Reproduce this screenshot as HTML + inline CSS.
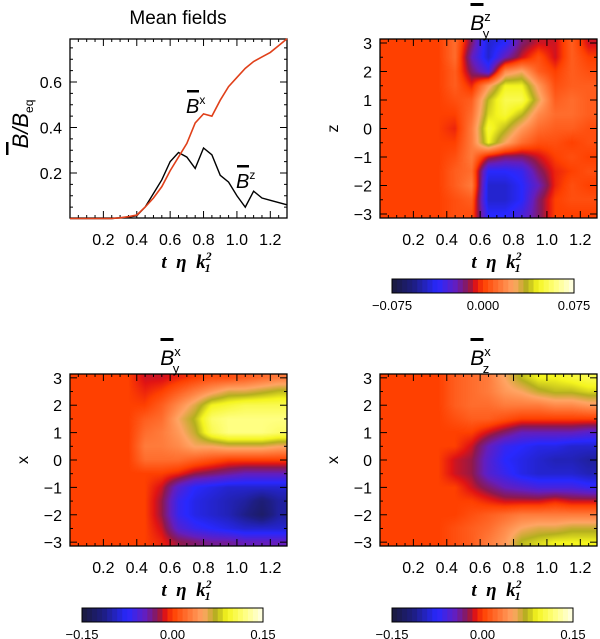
<!DOCTYPE html>
<html><head><meta charset="utf-8"><style>
html,body{margin:0;padding:0;background:#fff;}
#wrap{position:relative;width:600px;height:639px;}
canvas{position:absolute;z-index:0;}
svg{position:absolute;left:0;top:0;z-index:1;display:block;font-family:"Liberation Sans",sans-serif;}
.tl{font-size:16px;fill:#000;}
.ttl{font-family:"Liberation Serif",serif;font-style:italic;font-weight:bold;font-size:19px;}
</style></head><body>
<div id="wrap">
<svg id="fig" width="600" height="639" viewBox="0 0 600 639" xmlns="http://www.w3.org/2000/svg"></svg>
</div>
<script>
// ---------- data ----------
const lineT = [0,0.05,0.1,0.15,0.2,0.25,0.3,0.35,0.4,0.45,0.5,0.55,0.6,0.65,0.7,0.75,0.8,0.85,0.9,0.95,1.0,1.05,1.1,1.15,1.2,1.25,1.3];
const bxValues = [0,0,0,0,0,0,0.003,0.008,0.015,0.05,0.09,0.14,0.21,0.27,0.33,0.42,0.46,0.45,0.52,0.58,0.62,0.66,0.69,0.71,0.73,0.76,0.79];
const bzValues = [0,0,0,0,0,0,0.003,0.006,0.012,0.05,0.11,0.17,0.25,0.29,0.27,0.22,0.31,0.28,0.19,0.16,0.1,0.05,0.12,0.09,0.08,0.07,0.06];
const lineYTicks = [0.2,0.4,0.6];
const xTicks = [0.2,0.4,0.6,0.8,1.0,1.2];
const zTicks = [3,2,1,0,-1,-2,-3];
const mapT = [0.05,0.15,0.25,0.35,0.45,0.55,0.65,0.75,0.85,0.95,1.05,1.15,1.25];
const mapZ = [3,2.5,2,1.5,1,0.5,0,-0.5,-1,-1.5,-2,-2.5,-3];
// values as fraction of colour-bar max
const byzValues = [
[0,0,0,0,0.15,-0.2,-0.6,-0.5,-0.2,-0.1,-0.1,0.1,-0.1],
[0,0,0,0,0.15,-0.3,-0.6,-0.3,-0.1,0.05,-0.1,0.1,0],
[0,0,0,0,0.1,-0.2,-0.4,0.25,0.35,0.1,0,0.1,0.05],
[0,0,0,0,0.1,-0.05,0.3,0.6,0.6,0.3,0.05,0.1,0.1],
[0,0,0,0,0.05,0.1,0.5,0.7,0.7,0.4,0.1,0.15,0.1],
[0,0,0,0,0,0.15,0.55,0.65,0.5,0.25,0.15,0.15,0.1],
[0,0,0,0,-0.05,0.2,0.65,0.5,0.3,0.15,0.1,0.1,0.05],
[0,0,0,0,0,0.2,0.6,0.35,0.15,0.05,0.05,0,0.05],
[0,0,0,0,0.05,0.2,-0.1,-0.2,-0.2,-0.1,0,0.05,0],
[0,0,0,0,0.1,0.15,-0.5,-0.5,-0.45,-0.2,-0.05,0,0.05],
[0,0,0,0,0.1,0.2,-0.6,-0.6,-0.5,-0.3,-0.05,0.05,0],
[0,0,0,0,0.05,0.1,-0.6,-0.6,-0.5,-0.2,0,0.05,0.05],
[0,0,0,0,0.05,0.05,-0.5,-0.5,-0.4,-0.2,0,0,0]];
const byxValues = [
[0,0,0,0,-0.1,-0.1,-0.05,0,0.05,0.05,0.1,0.15,0.2],
[0,0,0,0,-0.05,0,0.1,0.2,0.3,0.4,0.4,0.45,0.5],
[0,0,0,0,0,0.1,0.25,0.4,0.6,0.65,0.7,0.7,0.7],
[0,0,0,0,0.1,0.15,0.35,0.5,0.75,0.8,0.8,0.8,0.8],
[0,0,0,0,0.15,0.2,0.3,0.45,0.7,0.8,0.8,0.8,0.75],
[0,0,0,0,0.2,0.2,0.25,0.35,0.35,0.4,0.4,0.4,0.35],
[0,0,0,0,0.15,0.15,0.15,0.1,0.05,0,0,0,0],
[0,0,0,0,0,0,-0.05,-0.15,-0.2,-0.25,-0.3,-0.3,-0.3],
[0,0,0,0,0,-0.1,-0.35,-0.5,-0.55,-0.6,-0.6,-0.6,-0.6],
[0,0,0,0,0,-0.15,-0.45,-0.55,-0.6,-0.65,-0.7,-0.8,-0.7],
[0,0,0,0,0,-0.15,-0.45,-0.55,-0.6,-0.65,-0.75,-0.85,-0.7],
[0,0,0,0,0,-0.1,-0.35,-0.45,-0.5,-0.55,-0.6,-0.6,-0.6],
[0,0,0,0,0,-0.05,-0.15,-0.2,-0.25,-0.25,-0.3,-0.3,-0.3]];
const bzxValues = [
[0,0,0,0,0.1,0.15,0.2,0.35,0.5,0.6,0.6,0.65,0.7],
[0,0,0,0,0.1,0.15,0.2,0.3,0.35,0.45,0.5,0.5,0.55],
[0,0,0,0,0.1,0.15,0.15,0.2,0.2,0.2,0.25,0.25,0.3],
[0,0,0,0,0.05,0.1,0.1,0.05,0,0,0,0,0],
[0,0,0,0,0,0,-0.1,-0.2,-0.3,-0.3,-0.3,-0.3,-0.35],
[0,0,0,0,0,-0.1,-0.3,-0.45,-0.5,-0.55,-0.55,-0.6,-0.6],
[0,0,0,0,-0.1,-0.15,-0.35,-0.5,-0.55,-0.6,-0.65,-0.65,-0.7],
[0,0,0,0,-0.1,-0.15,-0.35,-0.45,-0.55,-0.6,-0.6,-0.6,-0.65],
[0,0,0,0,0,-0.1,-0.2,-0.3,-0.35,-0.4,-0.4,-0.4,-0.45],
[0,0,0,0,0,0,-0.05,-0.1,-0.1,-0.1,-0.05,-0.1,-0.1],
[0,0,0,0,0,0.05,0.1,0.15,0.2,0.2,0.2,0.2,0.2],
[0,0,0,0,0.05,0.1,0.15,0.25,0.35,0.4,0.4,0.45,0.45],
[0,0,0,0,0.05,0.1,0.2,0.3,0.5,0.55,0.6,0.6,0.6]];
const cbTicksA = ["-0.075","0.000","0.075"];
const cbTicksB = ["-0.15","0.00","0.15"];

// ---------- helpers ----------
const NS="http://www.w3.org/2000/svg";
const svg=document.getElementById('fig');
const wrap=document.getElementById('wrap');
function mk(tag,attrs,parent){const e=document.createElementNS(NS,tag);for(const k in attrs)e.setAttribute(k,attrs[k]);(parent||svg).appendChild(e);return e;}
const stops=[[0,[26,26,60]],[0.12,[30,30,130]],[0.25,[40,40,255]],[0.35,[100,30,190]],[0.42,[140,25,80]],[0.46,[225,20,20]],[0.5,[255,64,0]],[0.58,[255,112,48]],[0.67,[255,165,100]],[0.74,[180,175,30]],[0.8,[245,245,30]],[0.9,[255,255,130]],[1,[255,255,235]]];
function crgb(f){f=Math.max(0,Math.min(1,f));for(let i=1;i<stops.length;i++){if(f<=stops[i][0]){const a=stops[i-1],b=stops[i];const u=(f-a[0])/(b[0]-a[0]);return a[1].map((v,j)=>Math.round(v+(b[1][j]-v)*u));}}return [255,255,235];}
function cmap(f){return `rgb(${crgb(f)})`;}
const T0=0,T1=1.3;

function axisFrame(g,L,T,R,B){
  const xs=t=>L+(t-T0)/(T1-T0)*(R-L);
  for(let k=1;k<26;k++){const t=k*0.05;const x=xs(t);const len=(k%4==0)?7:3;
    const tk=mk('line',{x1:x,x2:x,y1:B,y2:B-len,stroke:'#000','stroke-width':1},g);
    mk('line',{x1:x,x2:x,y1:T,y2:T+len,stroke:'#000','stroke-width':1},g);}
  const fr=mk('rect',{x:L,y:T,width:R-L,height:B-T,fill:'none',stroke:'#000','stroke-width':1.3},g);
  
  xTicks.forEach(t=>{const tx=mk('text',{x:xs(t),y:B+27,'text-anchor':'middle',class:'tl'},g);tx.textContent=t.toFixed(1);
    });
  const at=mk('text',{x:(L+R)/2+8,y:B+50,'text-anchor':'middle',class:'ttl'},g);
  
  at.innerHTML='t&#160;&#160;η&#160;&#160;k<tspan font-size="12" dy="-8">2</tspan><tspan font-size="12" dx="-7" dy="12">1</tspan>';
  return xs;
}

function sampleGrid(vals,t,z){
  const nT=mapT.length,nZ=mapZ.length;
  let fj=(t-mapT[0])/(mapT[1]-mapT[0]); fj=Math.max(0,Math.min(nT-1,fj));
  let fi=(mapZ[0]-z)/(mapZ[0]-mapZ[1]); fi=Math.max(0,Math.min(nZ-1,fi));
  const j0=Math.floor(fj),i0=Math.floor(fi),j1=Math.min(nT-1,j0+1),i1=Math.min(nZ-1,i0+1);
  const u=fj-j0,w=fi-i0;
  return (vals[i0][j0]*(1-u)+vals[i0][j1]*u)*(1-w)+(vals[i1][j0]*(1-u)+vals[i1][j1]*u)*w;
}

function heatmap(name,L,T,R,B,vals,ylab,title,sub,cb,cbt){
  const g=mk('g',{});
  const W=R-L,H=B-T;
  const cv=document.createElement('canvas');
  
  
  cv.width=W;cv.height=H;cv.style.left=L+'px';cv.style.top=T+'px';
  wrap.insertBefore(cv,svg);
  const ctx=cv.getContext('2d');const img=ctx.createImageData(W,H);
  for(let py=0;py<H;py++){const z=3.14-(py+0.5)/H*6.28;
    for(let px=0;px<W;px++){const t=T0+(px+0.5)/W*(T1-T0);
      const v=sampleGrid(vals,t,z);const c=crgb((v+1)/2);const o=(py*W+px)*4;
      img.data[o]=c[0];img.data[o+1]=c[1];img.data[o+2]=c[2];img.data[o+3]=255;}}
  ctx.putImageData(img,0,0);
  axisFrame(g,L,T,R,B);
  const zs=z=>T+(3.14-z)/6.28*(B-T);
  for(let k=-6;k<=6;k++){const z=k/2;const y=zs(z);const len=(k%2==0)?7:3;
    mk('line',{x1:L,x2:L+len,y1:y,y2:y,stroke:'#000'},g);mk('line',{x1:R,x2:R-len,y1:y,y2:y,stroke:'#000'},g);}
  zTicks.forEach(z=>{const t=mk('text',{x:L-8,y:zs(z)+6,'text-anchor':'end',class:'tl'},g);t.textContent=(z<0?'\u2212'+(-z):String(z));
    });
  const yl=mk('text',{x:L-47,y:(T+B)/2+5,'text-anchor':'middle',class:'tl',transform:`rotate(-90 ${L-47} ${(T+B)/2})`},g);
  yl.textContent=ylab;
  const tt=mk('text',{x:(L+R)/2-8,y:T-9,'text-anchor':'middle',style:'font-family:"Liberation Sans",sans-serif;font-style:italic;font-size:21px'},g);
  
  tt.innerHTML=`B<tspan font-size="13" font-style="normal" dy="-9">${title}</tspan><tspan font-size="13" font-style="normal" dx="-8" dy="17">${sub}</tspan>`;
  mk('rect',{x:(L+R)/2-18,y:T-36,width:13,height:3,fill:'#000'},g);
  const [cx0,cy0,cx1,cy1]=cb;
  const bg=mk('g',{},g);
  const n=36;for(let k=0;k<n;k++){mk('rect',{x:cx0+k*(cx1-cx0)/n,y:cy0,width:(cx1-cx0)/n+0.6,height:cy1-cy0,fill:cmap((k+0.5)/n)},bg);}
  mk('rect',{x:cx0,y:cy0,width:cx1-cx0,height:cy1-cy0,fill:'none',stroke:'#000'},bg);
  cbt.forEach((s,k)=>{const t=mk('text',{x:cx0+k*(cx1-cx0)/2,y:cy1+17,'text-anchor':'middle',style:'font-size:13px'},bg);t.textContent=s.replace('-','\u2212');
    });
}

// ---------- panel 1: line plot ----------
(function(){
  const L=70,T=39,R=287,B=218;
  const g=mk('g',{});
  const ys=v=>218.5-v*227.5;
  const xs=axisFrame(g,L,T,R,B);
  for(let k=1;k<16;k++){const v=k*0.05;const y=ys(v);const len=(k%4==0)?7:3;
    mk('line',{x1:L,x2:L+len,y1:y,y2:y,stroke:'#000'},g);mk('line',{x1:R,x2:R-len,y1:y,y2:y,stroke:'#000'},g);}
  lineYTicks.forEach(v=>{const t=mk('text',{x:L-8,y:ys(v)+6,'text-anchor':'end',class:'tl'},g);t.textContent=v.toFixed(1);
    });
  const pz=mk('polyline',{points:lineT.map((t,i)=>xs(t)+','+ys(bzValues[i])).join(' '),fill:'none',stroke:'#000','stroke-width':1.4},g);
  
  const px=mk('polyline',{points:lineT.map((t,i)=>xs(t)+','+ys(bxValues[i])).join(' '),fill:'none',stroke:'#e0401a','stroke-width':1.6},g);
  
  const lx=mk('text',{x:186,y:113,style:'font-style:italic;font-size:20px'},g);lx.innerHTML='B<tspan font-size="12" font-style="normal" dy="-9">x</tspan>';
  
  mk('rect',{x:187,y:90,width:12,height:2.5,fill:'#000'},g);
  const lz=mk('text',{x:236,y:188,style:'font-style:italic;font-size:20px'},g);lz.innerHTML='B<tspan font-size="12" font-style="normal" dy="-9">z</tspan>';
  
  mk('rect',{x:237,y:165,width:12,height:2.5,fill:'#000'},g);
  const tt=mk('text',{x:178,y:24,'text-anchor':'middle',style:'font-size:19px'},g);tt.textContent='Mean fields';
  
  const yl=mk('text',{x:0,y:0,'text-anchor':'middle',style:'font-style:italic;font-size:22px',transform:'translate(28,124) rotate(-90)'},g);
  yl.innerHTML='B/B<tspan font-size="12" font-style="normal" dy="5">eq</tspan>';
  
  mk('rect',{x:6,y:142,width:2.5,height:13,fill:'#000'},g);
})();

heatmap('byz-heatmap',380,39,597,218,byzValues,'z','z','y',[392,279,574,293],cbTicksA);
heatmap('byx-heatmap',70,374,287,546,byxValues,'x','x','y',[82,608,263,622],cbTicksB);
heatmap('bzx-heatmap',380,374,597,546,bzxValues,'x','x','z',[392,608,573,622],cbTicksB);
</script>
</body></html>
